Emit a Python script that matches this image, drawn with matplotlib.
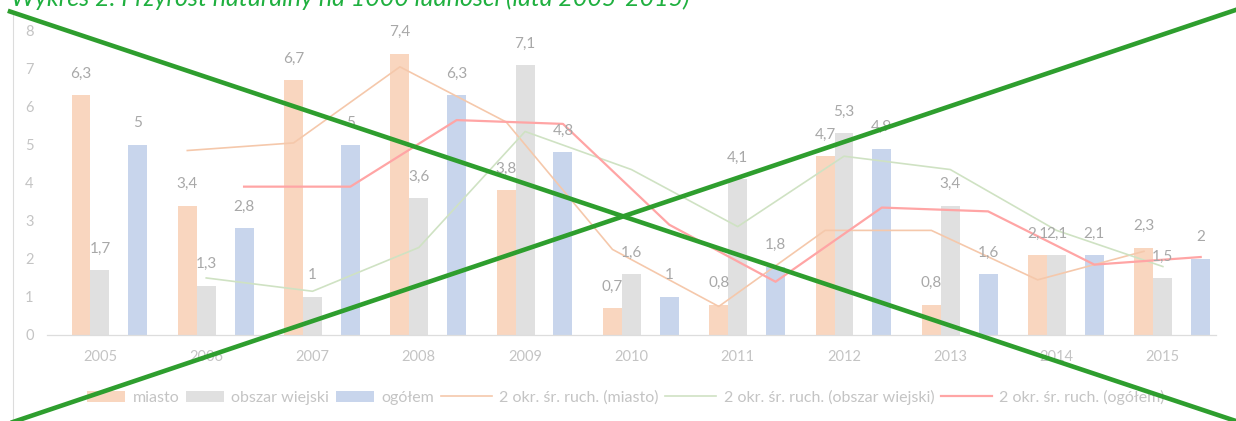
import numpy as np
import pandas as pd
import matplotlib
matplotlib.use('Agg')
import matplotlib.pyplot as plt
from matplotlib.lines import Line2D
from matplotlib.patches import Patch
from matplotlib.legend_handler import HandlerPatch

# ---------------- data ----------------
years = ['2005', '2006', '2007', '2008', '2009', '2010', '2011', '2012', '2013', '2014', '2015']
miasto = [6.3, 3.4, 6.7, 7.4, 3.8, 0.7, 0.8, 4.7, 0.8, 2.1, 2.3]
obszar_wiejski = [1.7, 1.3, 1.0, 3.6, 7.1, 1.6, 4.1, 5.3, 3.4, 2.1, 1.5]
ogolem = [5.0, 2.8, 5.0, 6.3, 4.8, 1.0, 1.8, 4.9, 1.6, 2.1, 2.0]
yticks = [0, 1, 2, 3, 4, 5, 6, 7, 8]
bar_names = ['miasto', 'obszar wiejski', 'ogółem']
ma_names = ['2 okr. śr. ruch. (miasto)', '2 okr. śr. ruch. (obszar wiejski)',
            '2 okr. śr. ruch. (ogółem)']
title = 'Wykres 2. Przyrost naturalny na 1000 ludności (lata 2005-2015)'

# ---------------- style ----------------
W, H = 1236, 421
FONT = 'Lato'
bar_colors = ['#F9D6BF', '#E0E0E0', '#C8D5EC']
ma_colors = ['#F5C8AB', '#CFE2C3', '#FFA5A5']
ma_widths = [1.2, 1.2, 1.6]
label_color = '#A8A8A8'
axis_color = '#C4C4C4'

plt.rcParams['font.family'] = [FONT, 'DejaVu Sans']

fig = plt.figure(figsize=(W / 100, H / 100), dpi=100)
fig.patch.set_facecolor('white')
ax = fig.add_axes([46.8 / W, (H - 335) / H, (1216 - 46.8) / W, (335 - 30.7) / H])

x = np.arange(len(years))
bw = 0.178
offsets = [-bw, 0.0, 2 * bw]
series = [miasto, obszar_wiejski, ogolem]


def fmt(v):
    return f'{v:g}'.replace('.', ',')


for vals, off, col in zip(series, offsets, bar_colors):
    ax.bar(x + off, vals, width=bw, color=col, zorder=2, linewidth=0)

# moving-average trendlines (2 periods) as drawn by the spreadsheet
for vals, off, col, lw in zip(series, offsets, ma_colors, ma_widths):
    ma = pd.Series(vals).rolling(2).mean()
    ax.plot(x[1:] + off, ma.values[1:], color=col, lw=lw, zorder=3,
            solid_joinstyle='round')

for vals, off in zip(series, offsets):
    for xi, v in zip(x, vals):
        ax.annotate(fmt(v), (xi + off, v), xytext=(0, 21.5 * 0.72),
                    textcoords='offset points', ha='center', va='center',
                    fontsize=11, color=label_color, zorder=4)

ax.set_xlim(-0.5, len(years) - 0.5)
ax.set_ylim(0, 8)
ax.set_xticks(x)
ax.set_xticklabels(years)
ax.set_yticks(yticks)
ax.set_yticklabels([str(t) for t in yticks])
for s in ['top', 'right', 'left']:
    ax.spines[s].set_visible(False)
ax.spines['bottom'].set_color('#DDDDDD')
ax.spines['bottom'].set_linewidth(0.9)
ax.tick_params(axis='both', length=0, labelcolor=axis_color, labelsize=10.5)
ax.tick_params(axis='y', pad=9.4)
ax.tick_params(axis='x', pad=10.5)
ax.patch.set_alpha(0)


class NarrowPatch(HandlerPatch):
    def legend_artist(self, legend, orig_handle, fontsize, handlebox):
        handlebox.width = 38 * 0.72
        return super().legend_artist(legend, orig_handle, fontsize, handlebox)


LFS = 11.5
handles = [Patch(facecolor=c, edgecolor='none') for c in bar_colors] + \
          [Line2D([], [], color=c, lw=lw) for c, lw in zip(ma_colors, ma_widths)]
labels = bar_names + ma_names
hmap = {h: NarrowPatch() for h in handles[:3]}
leg = ax.legend(handles, labels, handler_map=hmap, ncol=6, frameon=False,
                loc='center', bbox_to_anchor=(626 / W, (H - 397.5) / H),
                bbox_transform=fig.transFigure, fontsize=LFS,
                handlelength=51 * 0.72 / LFS, handleheight=11 * 0.72 / LFS,
                handletextpad=0.46, columnspacing=0.42, borderpad=0,
                labelcolor=axis_color)

# chart frame left edge
fig.add_artist(Line2D([13 / W, 13 / W], [0, (H - 12) / H], transform=fig.transFigure,
                      color='#DCDCDC', lw=0.8, zorder=1))

# title (partly cut at the top, as in the source image)
fig.text(11 / W, (H - 6) / H, title, fontsize=18, style='italic', color='#20B040',
         ha='left', va='baseline', family=[FONT, 'DejaVu Sans'])

# green cross over the chart
gcol = '#2E9E2E'
fig.add_artist(Line2D([10 / W, 1240 / W], [(H - 11.5) / H, (H - 422.4) / H],
                      transform=fig.transFigure, color=gcol, lw=3.3, zorder=10))
fig.add_artist(Line2D([10 / W, 1240 / W], [(H - 423) / H, (H - 8.5) / H],
                      transform=fig.transFigure, color=gcol, lw=3.3, zorder=10))

fig.savefig('out.png', dpi=100, facecolor='white')
